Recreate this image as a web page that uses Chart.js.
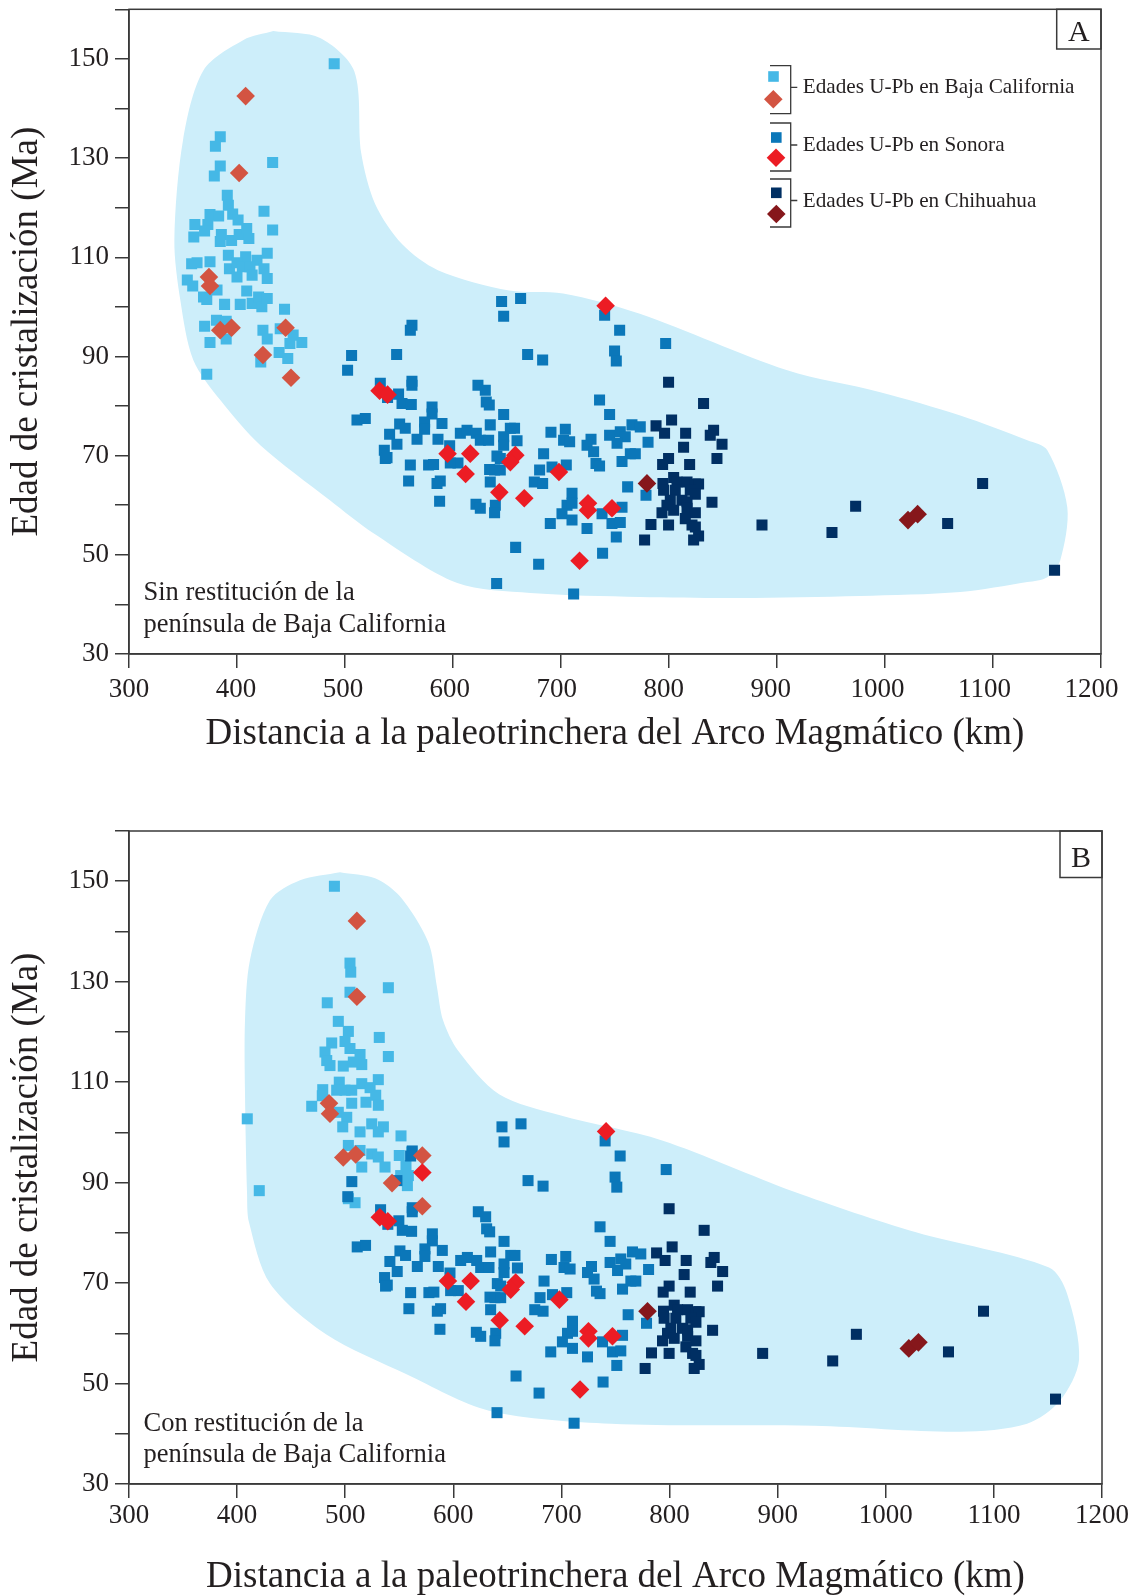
<!DOCTYPE html>
<html>
<head>
<meta charset="utf-8">
<script src="https://cdn.jsdelivr.net/npm/chart.js@4/dist/chart.umd.min.js"></script>
<style>
  html, body { margin: 0; padding: 0; background: #fff; }
  #wrap { position: relative; width: 1133px; height: 1596px; }
  canvas { position: absolute; left: 0; }
  #chartA { top: 0; }
  #chartB { top: 790px; }
</style>
</head>
<body>
<div id="wrap">
  <canvas id="chartA" width="1133" height="790"></canvas>
  <canvas id="chartB" width="1133" height="806"></canvas>
</div>
<script>
// Ejes
const xTicks = [300, 400, 500, 600, 700, 800, 900, 1000, 1100, 1200];
const yTicks = [30, 50, 70, 90, 110, 130, 150];

// Zona sombreada (km, Ma) - panel A y panel B
const regionA = [[433.6,155.6],[477,154.2],[508.6,147.5],[515,131],[528,120.7],[553,112.6],[586,107.4],[652,103.3],[702,102.7],[773,98.6],[909.5,87.2],[995.6,82.8],[1069.7,78.1],[1131.8,73.1],[1150.3,71.1],[1168.8,59.6],[1162.3,48.9],[1150.3,45.5],[1131.8,44.5],[1069.7,42.5],[977,41.7],[866,41.3],[773,41.5],[671.6,42.3],[604,44.3],[526,54.4],[486,61],[421.6,72.1],[384.5,81.2],[359.5,89.3],[347.5,101.4],[342,113.5],[350,133.6],[369,147.7],[406,153.8],[433.6,155.6]];
const regionB = [[495.2,151.8],[527.6,150.6],[547.9,147.6],[566.4,142.2],[578.4,136.9],[584.9,128.9],[590.5,122.3],[604.3,116.3],[642.3,107.6],[698.7,103.4],[793.1,98.4],[915.2,88.2],[1028,80.1],[1151,73.1],[1167.7,67.9],[1178.8,54.8],[1161.2,46.6],[1130.7,42],[1068.7,40.4],[933.7,41.6],[745.9,42],[633,44.6],[557.2,51.8],[482.2,59.8],[430.4,69.9],[411,82.1],[409.2,87.8],[407.3,107.8],[407.3,122.3],[411.9,134.3],[430.4,146.2],[458.2,150.2],[495.2,151.8]];

// Baja California (sin restitucion)
const bajaSquaresA = [[490,149],[384.5,134.3],[380,132.4],[384.5,128.4],[379,126.4],[433,129.1],[391,122.5],[392,120.5],[396,118.7],[401,117.5],[375,118.6],[383,118.3],[361,116.6],[373,116.6],[360,114.1],[370,115.3],[425,119.3],[433,115.5],[385.5,114.6],[384.5,113.2],[395,113.4],[402,114.6],[409,115.8],[411,113.8],[392,110.4],[408,110.1],[418.5,109.4],[428,110.8],[358,108.7],[363,108.9],[375,109.1],[393,107.7],[400,108.9],[405,108.1],[412,108.1],[425,107.7],[400,106],[414,106.4],[428,105.7],[354,105.4],[359,104.2],[369,102],[372,101.5],[381.5,103.4],[388.5,100.5],[403,100.5],[409,103.2],[414,100.7],[420,102],[423,100],[428,101.7],[444,99.5],[370,96.1],[381,97.3],[390,97.1],[375,92.8],[390,93.5],[424,95.3],[428,93.5],[440,95.6],[452,94.3],[460,92.8],[449,92.6],[439,90.8],[447,89.6],[422,88.9],[372,86.4]];
const bajaDiamondsA = [[408,142.5],[402,127],[374,106],[375,104.2],[384.5,95.3],[395,95.8],[445,95.8],[424,90.3],[450,85.7]];

// Baja California (con restitucion)
const bajaSquaresB = [[490,149],[504.4,133.7],[505.1,131.9],[539.9,128.8],[504.4,127.9],[483.4,125.8],[493.6,122.1],[502.9,120.1],[499.8,118.1],[531.5,118.9],[487.5,117.8],[481.3,116],[482.9,114.3],[485.9,113.3],[504.4,116.7],[513.7,115.5],[515.3,113.5],[498.2,113.2],[507.5,114],[539.9,115.1],[530.6,110.5],[494.5,110],[479.2,108.5],[492.1,108.4],[499.8,108.4],[506,108.4],[515.3,109.7],[523,108.9],[528.2,107.4],[519.2,106],[506,105.8],[530.6,105.4],[469,105.2],[478.8,107.3],[409.4,102.7],[493.6,104],[501.4,103],[497.7,101.1],[513.7,100.1],[524.5,101.7],[535.3,101.1],[530.6,100.1],[551.6,99.3],[502.9,97.4],[513.7,96.4],[524.5,95.7],[530.6,95.1],[515.3,93.1],[536.8,93.1],[550,95.4],[561.5,96.1],[556.2,93.4],[551.3,91.4],[557.5,89.4],[558.4,91.4],[420.5,88.4],[502.9,86.8],[509.1,86]];
const bajaDiamondsB = [[510.8,142.1],[510.8,127],[485,105.8],[485.9,103.7],[498.2,95],[509.7,95.6],[571.3,95.4],[543.3,89.9],[571.3,85.3]];

// Sonora
const sonoraSquares = [[645,101.1],[662.6,101.7],[646.9,98.1],[562,96.3],[560.5,95.3],[506.1,90.2],[547.8,90.4],[502.4,87.2],[669.1,90.4],[683,89.3],[740.4,98.3],[754.3,95.3],[749.6,91.1],[751.2,89.1],[562,85],[562,84.2],[532.7,84.6],[539.4,81.7],[549.6,82.4],[552.8,80.5],[561.4,80.3],[580.6,79.8],[580.6,78.4],[511.1,77.2],[518.8,77.5],[550.6,76.4],[555.8,75.5],[541.3,74.3],[548.1,72.3],[536.4,71.1],[538.9,69.6],[573.7,76.8],[573.7,75.3],[589.8,76.5],[566.7,73.3],[586.1,73.3],[596.9,72],[606.8,74.5],[613,75.1],[621.6,74.5],[623.1,84.2],[629.9,83.2],[630.8,80.8],[633.6,80.2],[646.9,78.3],[634.5,76.2],[625.3,73.1],[633,73.1],[653.1,75.5],[657,75.5],[646.9,73.8],[659.3,73],[646.9,72.1],[640.7,69.9],[643.8,69.4],[604.6,68.5],[597.5,68.5],[577.4,68.1],[582,68.2],[560.5,68.1],[558.9,64.9],[588.2,64.9],[585.2,64.4],[537.3,69.4],[633.9,67.2],[638.5,67.1],[643.8,67.1],[634.5,64.7],[683.9,70.4],[680.2,67.1],[675.3,64.7],[683,64.4],[690.7,74.7],[704,75.3],[702.4,73.1],[708,72.8],[691.7,67.7],[704.9,68.1],[587.6,60.8],[621.3,60.2],[625.3,59.4],[639.2,60],[638.5,58.5],[727.8,73.3],[724.1,72.1],[730.2,70.8],[732.4,68.4],[735.7,67.9],[735.7,81.2],[745,78.3],[745,74.1],[754.9,74.8],[759.5,73.8],[751.9,72.5],[765.7,76.2],[756.5,68.8],[764.2,70.4],[761.7,63.7],[710.2,62.4],[705.6,60],[710.2,60.4],[700.9,58.3],[710.2,57],[724.1,55.3],[738,58.3],[756.5,59.6],[747.2,56.3],[754.9,56.5],[751.2,53.6],[690.1,56.3],[738.5,50.3],[658,51.5],[679.3,48.1],[640.4,44.2],[711.7,42.1],[796.9,92.6],[780.6,72.7],[778.7,62],[773.4,75.8],[768.8,70.4]];
const sonoraDiamonds = [[741.3,100.2],[532,83.1],[539.4,82.3],[595,70.4],[616,70.4],[611.7,66.3],[657.7,70.1],[653.1,68.7],[698.1,66.7],[642.9,62.6],[666,61.4],[725,60.4],[725,59],[747.2,59.4],[717.2,48.8]];
const sonoraDiamondsExtraB = [[571.3,92]];

// Chihuahua
const chihuahuaSquares = [[799.6,84.8],[832,80.5],[802.4,77.2],[788,76],[795.9,74.5],[815.4,74.5],[841.3,75.1],[838.2,74.1],[849.1,72.3],[813.5,71.7],[799.6,69.4],[794.1,68.2],[819.1,68.2],[844.4,69.4],[804.3,65.6],[794.4,64.4],[807.4,64.7],[816.7,64.7],[824.4,64.3],[827.4,64.3],[795,63],[805.8,63],[819.7,63],[824.4,62.2],[801.2,61],[798.1,60],[812,61],[816.7,60.7],[793.5,58.5],[804.3,59],[816.7,59.4],[824.4,58.5],[839.8,60.6],[815.1,57.3],[821.3,56],[824.4,55.6],[783.3,56.1],[799.6,56],[827.4,53.8],[822.8,53],[777.4,53],[886.1,56],[950.9,54.5],[972.8,59.8],[1090.4,64.4],[1058,56.3],[1157,46.9]];
const chihuahuaDiamonds = [[779.6,64.4],[1021.3,57],[1030.2,58.2]];

const legendLabels = ['Edades U-Pb en Baja California', 'Edades U-Pb en Sonora', 'Edades U-Pb en Chihuahua'];

const COL = {
  bajaSq: '#45b8e6', bajaDm: '#d35442',
  sonSq: '#0b77b9', sonDm: '#ec1c24',
  chiSq: '#002f63', chiDm: '#86171b',
  region: '#cdeefa', ink: '#231f20', line: '#3a3a3a'
};
const SERIF = "'Liberation Serif', 'DejaVu Serif', serif";
Chart.defaults.font.family = SERIF;
Chart.defaults.color = COL.ink;

const pts = arr => arr.map(([x, y]) => ({ x, y }));

function squares(arr, color, order) {
  return { data: pts(arr), pointStyle: 'rect', pointRadius: 7.8, pointBackgroundColor: color,
           backgroundColor: color, pointBorderWidth: 0, order };
}
function diamonds(arr, color, order) {
  return { data: pts(arr), pointStyle: 'rectRot', pointRadius: 9.3, pointBackgroundColor: color,
           backgroundColor: color, pointBorderWidth: 0, order };
}

function putText(ctx, txt, x, y, font) {
  ctx.font = font;
  ctx.fillText(txt, x, y);
}

// decoraciones: marco, etiquetas del eje x, letra del panel, leyenda y nota
function decorPlugin(p) {
  return {
    id: 'decor' + p.letter,
    afterDraw(chart) {
      const ctx = chart.ctx;
      const a = chart.chartArea;
      const xs = chart.scales.x;
      ctx.save();
      ctx.strokeStyle = COL.line;
      ctx.lineWidth = 1.5;
      ctx.strokeRect(a.left, a.top, a.right - a.left, a.bottom - a.top);
      ctx.strokeRect(p.box[0], a.top, a.right - p.box[0], p.box[1] - a.top);
      ctx.fillStyle = COL.ink;
      ctx.textBaseline = 'alphabetic';
      // etiquetas del eje x (en el original se corren un poco a la izquierda hacia la derecha)
      ctx.textAlign = 'center';
      xTicks.forEach(v => {
        const px = xs.getPixelForValue(v) - p.drift * (v - 300) / 900;
        putText(ctx, String(v), px, p.xLabelBase, '27px ' + SERIF);
      });
      putText(ctx, p.letter, (p.box[0] + a.right) / 2, p.box[2], '30px ' + SERIF);
      ctx.textAlign = 'left';
      putText(ctx, p.note[0], 143.5, p.noteY[0], '26.5px ' + SERIF);
      putText(ctx, p.note[1], 143.5, p.noteY[1], '26.5px ' + SERIF);
      if (p.legend) {
        const groups = [
          { sq: [773.5, 76.5], dm: [773.3, 99.3], top: 65.7, bot: 113.7, mid: 87.3, base: 92.7, c: [COL.bajaSq, COL.bajaDm] },
          { sq: [776.3, 137.5], dm: [776, 157.7], top: 123, bot: 171, mid: 145, base: 151, c: [COL.sonSq, COL.sonDm] },
          { sq: [776.3, 192.8], dm: [776.3, 214], top: 179, bot: 227, mid: 200.5, base: 206.7, c: [COL.chiSq, COL.chiDm] }
        ];
        groups.forEach((g, i) => {
          ctx.fillStyle = g.c[0];
          ctx.fillRect(g.sq[0] - 5.3, g.sq[1] - 5.3, 10.6, 10.6);
          ctx.fillStyle = g.c[1];
          ctx.beginPath();
          ctx.moveTo(g.dm[0], g.dm[1] - 9.3);
          ctx.lineTo(g.dm[0] + 9.3, g.dm[1]);
          ctx.lineTo(g.dm[0], g.dm[1] + 9.3);
          ctx.lineTo(g.dm[0] - 9.3, g.dm[1]);
          ctx.closePath();
          ctx.fill();
          ctx.strokeStyle = COL.line;
          ctx.lineWidth = 1.3;
          ctx.beginPath();
          ctx.moveTo(770, g.top); ctx.lineTo(790.7, g.top); ctx.lineTo(790.7, g.bot); ctx.lineTo(770, g.bot);
          ctx.moveTo(790.7, g.mid); ctx.lineTo(797.3, g.mid);
          ctx.stroke();
          ctx.fillStyle = COL.ink;
          putText(ctx, legendLabels[i], 802.7, g.base, '21.2px ' + SERIF);
        });
      }
      ctx.restore();
    }
  };
}

function makeChart(id, p) {
  const datasets = [
    { data: pts(p.region), showLine: true, fill: 'shape', backgroundColor: COL.region,
      borderColor: 'rgba(0,0,0,0)', borderWidth: 0, pointRadius: 0, tension: 0.3, order: 10 },
    squares(p.baja, COL.bajaSq, 7),
    squares(sonoraSquares, COL.sonSq, 6),
    squares(chihuahuaSquares, COL.chiSq, 5),
    diamonds(p.bajaDm, COL.bajaDm, 3),
    diamonds(p.sonDm, COL.sonDm, 2),
    diamonds(chihuahuaDiamonds, COL.chiDm, 1)
  ];
  return new Chart(document.getElementById(id), {
    type: 'scatter',
    data: { datasets },
    options: {
      responsive: false,
      animation: false,
      events: [],
      layout: { padding: { left: 0, top: p.top, right: p.right, bottom: p.bottom } },
      plugins: { legend: { display: false }, tooltip: { enabled: false } },
      scales: {
        x: {
          type: 'linear', min: 300, max: 1200,
          afterBuildTicks: s => { s.ticks = xTicks.map(v => ({ value: v })); },
          ticks: { display: false },
          grid: { drawOnChartArea: false, tickLength: 14, color: COL.line, lineWidth: 1.5 },
          border: { color: COL.line, width: 1.5 },
          title: { display: true, text: 'Distancia a la paleotrinchera del Arco Magmático (km)', color: COL.ink,
                   font: { size: 37, lineHeight: 1 }, padding: { top: 0, bottom: p.xTitlePad } },
          afterFit: s => { s.height = p.xH; s.paddingLeft = 0; s.paddingRight = 0; }
        },
        y: {
          type: 'linear', min: 30, max: 160,
          ticks: { stepSize: 10, autoSkip: false, padding: 6, color: COL.ink, font: { size: 27 },
                   callback: v => yTicks.includes(v) ? String(v) : '' },
          grid: { drawOnChartArea: false, tickLength: 14, color: COL.line, lineWidth: 1.5 },
          border: { color: COL.line, width: 1.5 },
          title: { display: true, text: 'Edad de cristalización (Ma)', color: COL.ink,
                   font: { size: 37, lineHeight: 1 }, padding: { top: 9, bottom: 0 } },
          afterFit: s => { s.width = 129; s.paddingTop = 0; s.paddingBottom = 0; }
        }
      }
    },
    plugins: [decorPlugin(p)]
  });
}

makeChart('chartA', {
  letter: 'A', region: regionA, baja: bajaSquaresA, bajaDm: bajaDiamondsA, sonDm: sonoraDiamonds,
  top: 9, right: 32, bottom: 36, xH: 100, xTitlePad: 1.5, xLabelBase: 697, drift: 9.5,
  box: [1056.7, 49, 40.7], legend: true,
  note: ['Sin restitución de la', 'península de Baja California'], noteY: [600, 632]
});
makeChart('chartB', {
  letter: 'B', region: regionB, baja: bajaSquaresB, bajaDm: bajaDiamondsB,
  sonDm: sonoraDiamonds.concat(sonoraDiamondsExtraB),
  top: 41, right: 31, bottom: 0.5, xH: 111.5, xTitlePad: 0, xLabelBase: 733, drift: 0,
  box: [1060, 87.5, 77], legend: false,
  note: ['Con restitución de la', 'península de Baja California'], noteY: [641, 672]
});
</script>
</body>
</html>
